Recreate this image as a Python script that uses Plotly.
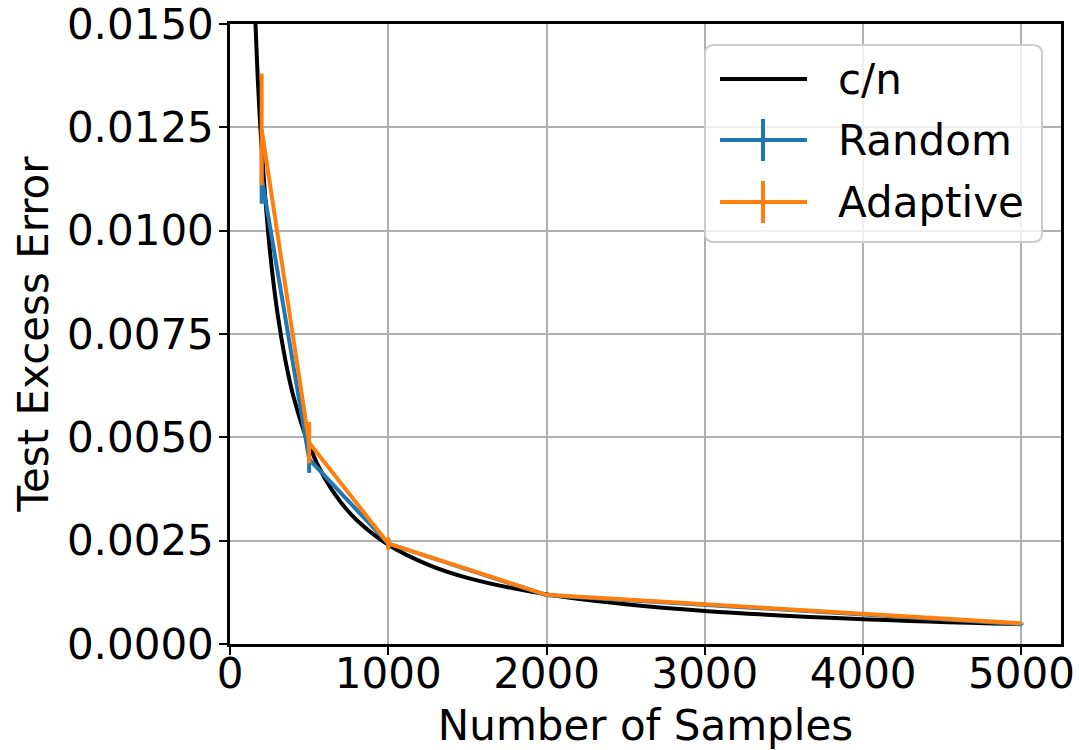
import plotly.graph_objects as go

# ---- data ----
samples = [200, 500, 1000, 2000, 5000]
random_err = [0.0113, 0.00447, 0.00243, 0.00118, 0.00048]
random_std = [0.00065, 0.00033, 0.00010, 0.00004, 0.00002]
adaptive_err = [0.01245, 0.00487, 0.00243, 0.00119, 0.00050]
adaptive_std = [0.00135, 0.00050, 0.00015, 0.00004, 0.00002]

curve_n = [150, 175, 200, 250, 300, 350, 400, 500, 600, 700, 800, 1000,
           1250, 1500, 2000, 2500, 3000, 4000, 5000]
curve_y = [0.0160, 0.01371, 0.0120, 0.0096, 0.0080, 0.00686, 0.0060, 0.0048,
           0.0040, 0.00343, 0.0030, 0.0024, 0.00192, 0.0016, 0.0012, 0.00096,
           0.0008, 0.0006, 0.00048]

x_ticks = [0, 1000, 2000, 3000, 4000, 5000]
y_ticks = [0.0, 0.0025, 0.005, 0.0075, 0.01, 0.0125, 0.015]
y_tick_text = ["0.0000", "0.0025", "0.0050", "0.0075", "0.0100", "0.0125", "0.0150"]

BLUE = "#1f77b4"
ORANGE = "#ff7f0e"
FONT = "DejaVu Sans"
FS = 42

W, H = 1079, 750
L, R, T, B = 230, 18, 24, 106
pw, ph = W - L - R, H - T - B

fig = go.Figure()
fig.add_trace(go.Scatter(x=curve_n, y=curve_y, mode="lines", name="c/n",
                         line=dict(color="black", width=4, shape="spline"),
                         showlegend=False))
fig.add_trace(go.Scatter(x=samples, y=random_err, mode="lines", name="Random",
                         line=dict(color=BLUE, width=4),
                         error_y=dict(type="data", array=random_std, color=BLUE,
                                      thickness=4, width=0),
                         showlegend=False))
fig.add_trace(go.Scatter(x=samples, y=adaptive_err, mode="lines", name="Adaptive",
                         line=dict(color=ORANGE, width=4),
                         error_y=dict(type="data", array=adaptive_std, color=ORANGE,
                                      thickness=4, width=0),
                         showlegend=False))

def px(x):
    return (x - L) / pw

def py(y):
    return (H - B - y) / ph

# custom legend box with rounded corners
x0, x1, y0, y1, r = 705, 1042, 45, 242, 9
path = (f"M {px(x0 + r)},{py(y0)} L {px(x1 - r)},{py(y0)} "
        f"Q {px(x1)},{py(y0)} {px(x1)},{py(y0 + r)} "
        f"L {px(x1)},{py(y1 - r)} Q {px(x1)},{py(y1)} {px(x1 - r)},{py(y1)} "
        f"L {px(x0 + r)},{py(y1)} Q {px(x0)},{py(y1)} {px(x0)},{py(y1 - r)} "
        f"L {px(x0)},{py(y0 + r)} Q {px(x0)},{py(y0)} {px(x0 + r)},{py(y0)} Z")
shapes = [dict(type="path", path=path, xref="paper", yref="paper",
               fillcolor="rgba(255,255,255,0.8)",
               line=dict(color="#cccccc", width=2), layer="above")]
annotations = []
entries = [("c/n", "black", False, 79), ("Random", BLUE, True, 140),
           ("Adaptive", ORANGE, True, 202)]
for label, col, bar, yy in entries:
    shapes.append(dict(type="line", xref="paper", yref="paper",
                       x0=px(720), x1=px(807), y0=py(yy), y1=py(yy),
                       line=dict(color=col, width=4), layer="above"))
    if bar:
        shapes.append(dict(type="line", xref="paper", yref="paper",
                           x0=px(763), x1=px(763), y0=py(yy - 21), y1=py(yy + 21),
                           line=dict(color=col, width=4), layer="above"))
    annotations.append(dict(text=label, xref="paper", yref="paper",
                            x=px(836), y=py(yy), xanchor="left", yanchor="middle",
                            showarrow=False, font=dict(family=FONT, size=FS, color="black")))

axis_common = dict(showline=True, linecolor="black", linewidth=2.5, mirror=True,
                   ticks="outside", ticklen=8, tickwidth=2, tickcolor="black",
                   showgrid=True, gridcolor="#b0b0b0", gridwidth=2, zeroline=False,
                   automargin=False, ticklabeloverflow="allow",
                   tickfont=dict(family=FONT, size=FS, color="black"))

fig.update_layout(
    width=W, height=H,
    margin=dict(l=L, r=R, t=T, b=B),
    plot_bgcolor="white", paper_bgcolor="white",
    font=dict(family=FONT, size=FS, color="black"),
    xaxis=dict(range=[0, 5250], tickvals=x_ticks, ticklabelstandoff=-17,
               title=dict(text="Number of Samples", font=dict(family=FONT, size=FS),
                          standoff=18),
               **axis_common),
    yaxis=dict(range=[0, 0.015], tickvals=y_ticks, ticktext=y_tick_text,
               ticklabelstandoff=-3,
               title=dict(text="Test Excess Error", font=dict(family=FONT, size=FS),
                          standoff=6),
               **axis_common),
    shapes=shapes, annotations=annotations,
)

fig.write_html("out.html", config={"displayModeBar": False},
               post_script="document.body.style.margin='0';")
